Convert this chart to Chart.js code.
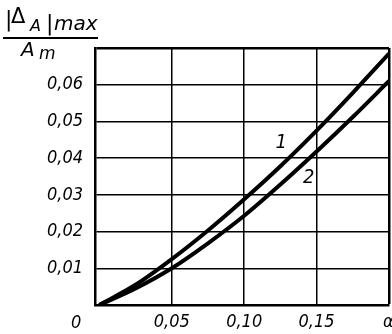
<!DOCTYPE html>
<html>
<head>
<meta charset="utf-8">
<script src="https://cdn.jsdelivr.net/npm/chart.js@4/dist/chart.umd.min.js"></script>
<style>
    html, body { margin: 0; padding: 0; background: #fff; }
    #wrap { width: 392px; height: 334px; }
</style>
</head>
<body>
<div id="wrap"><canvas id="alphaChart" width="392" height="334"></canvas></div>
<script>
"use strict";

// alpha values (x axis)
var alphaValues = [0, 0.025, 0.05, 0.075, 0.10, 0.125, 0.15, 0.175, 0.20];
// curve 1 and curve 2, |delta_A|max / A_m
var curve1Values = [0, 0.0055, 0.0125, 0.0203, 0.0288, 0.0378, 0.0475, 0.0578, 0.0685];
var curve2Values = [0, 0.0045, 0.0100, 0.0168, 0.0243, 0.0328, 0.0418, 0.0512, 0.0610];
var curveNames = ["1", "2"];

var xTickValues = [0.05, 0.10, 0.15];
var xTickLabels = ["0,05", "0,10", "0,15"];
var yTickValues = [0.01, 0.02, 0.03, 0.04, 0.05, 0.06];
var yTickLabels = ["0,01", "0,02", "0,03", "0,04", "0,05", "0,06"];

var fontFamily = "'DejaVu Sans Condensed', 'DejaVu Sans', sans-serif";
var labelFont = "italic 18px " + fontFamily;

function toPoints(xs, ys) {
    var pts = [];
    for (var i = 0; i < xs.length; i++) {
        pts.push({ x: xs[i], y: ys[i] });
    }
    return pts;
}

function findLabel(values, labels, v) {
    for (var i = 0; i < values.length; i++) {
        if (Math.abs(values[i] - v) < 1e-6) return labels[i];
    }
    return "";
}

// extra texts: axis title fraction, origin zero, alpha, curve numbers
var extraText = {
    id: "extraText",
    afterDraw: function(chart) {
        var c = chart.ctx;
        var xs = chart.scales.x;
        var ys = chart.scales.y;
        c.save();
        c.fillStyle = "#000";
        c.strokeStyle = "#000";
        c.textBaseline = "alphabetic";
        c.textAlign = "left";

        // fraction |Δ_A|max / A_m
        c.font = "22px 'DejaVu Sans', sans-serif";
        c.fillText("|", 5, 26);
        c.font = "21px 'DejaVu Sans', sans-serif";
        c.fillText("Δ", 11, 23);
        c.font = "italic 16px 'DejaVu Sans', sans-serif";
        c.fillText("A", 30, 31);
        c.font = "22px 'DejaVu Sans', sans-serif";
        c.fillText("|", 46, 30);
        c.font = "italic 20px 'DejaVu Sans', sans-serif";
        c.fillText("max", 54, 30);
        c.lineWidth = 2;
        c.beginPath();
        c.moveTo(3, 38);
        c.lineTo(98, 38);
        c.stroke();
        c.font = "italic 20px 'DejaVu Sans', sans-serif";
        c.fillText("A", 21, 56);
        c.font = "italic 17px 'DejaVu Sans', sans-serif";
        c.fillText("m", 39, 59);

        // origin and alpha
        c.font = labelFont;
        c.fillText("0", 71, 328);
        c.fillText("α", 383, 327);

        // curve numbers
        c.font = "italic 20px " + fontFamily;
        c.textAlign = "center";
        c.fillText(curveNames[0], xs.getPixelForValue(0.1255), ys.getPixelForValue(0.0428));
        c.fillText(curveNames[1], xs.getPixelForValue(0.1445), ys.getPixelForValue(0.0332));
        c.restore();
    }
};

var ctx = document.getElementById("alphaChart");

new Chart(ctx, {
    type: "line",
    data: {
        datasets: [{
            label: curveNames[0],
            data: toPoints(alphaValues, curve1Values),
            borderColor: "#000",
            borderWidth: 4,
            pointRadius: 0,
            fill: false,
            cubicInterpolationMode: "monotone"
        }, {
            label: curveNames[1],
            data: toPoints(alphaValues, curve2Values),
            borderColor: "#000",
            borderWidth: 4,
            pointRadius: 0,
            fill: false,
            cubicInterpolationMode: "monotone"
        }]
    },
    options: {
        responsive: false,
        animation: false,
        layout: { padding: { top: 48, right: 3, left: 0, bottom: 0 } },
        plugins: {
            legend: { display: false },
            tooltip: { enabled: false }
        },
        scales: {
            x: {
                type: "linear",
                min: -0.003,
                max: 0.2,
                border: { color: "#000", width: 2.5 },
                grid: {
                    color: "#000",
                    drawTicks: false,
                    lineWidth: function(c) {
                        return c.tick && Math.abs(c.tick.value - 0.2) < 1e-6 ? 2.5 : 1.5;
                    }
                },
                ticks: {
                    color: "#000",
                    padding: 7,
                    font: { family: fontFamily, size: 18, style: "italic" },
                    callback: function(v) { return findLabel(xTickValues, xTickLabels, v); }
                },
                afterBuildTicks: function(scale) {
                    scale.ticks = [{ value: -0.003 }, { value: 0.05 }, { value: 0.10 }, { value: 0.15 }, { value: 0.2 }];
                },
                afterFit: function(scale) {
                    scale.height = 29;
                    // no extra side padding from tick labels
                    scale.paddingLeft = 0;
                    scale.paddingRight = 0;
                }
            },
            y: {
                min: 0,
                max: 0.07,
                border: { color: "#000", width: 2.5 },
                grid: {
                    color: "#000",
                    drawTicks: false,
                    lineWidth: function(c) {
                        return c.tick && Math.abs(c.tick.value - 0.07) < 1e-6 ? 2.5 : 1.5;
                    }
                },
                ticks: {
                    stepSize: 0.01,
                    color: "#000",
                    padding: 12,
                    font: { family: fontFamily, size: 18, style: "italic" },
                    callback: function(v) { return findLabel(yTickValues, yTickLabels, v); }
                },
                afterFit: function(scale) { scale.width = 95; }
            }
        }
    },
    plugins: [extraText]
});
</script>
</body>
</html>
